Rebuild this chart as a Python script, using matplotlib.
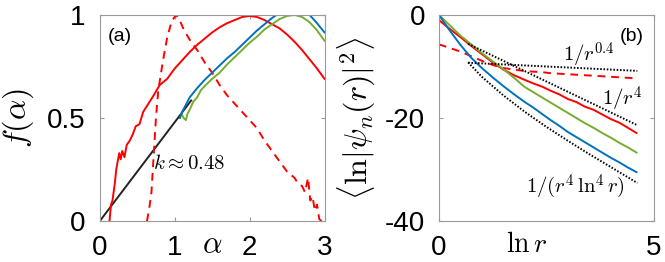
import numpy as np
import matplotlib
matplotlib.use("Agg")
import matplotlib.pyplot as plt

plt.rcParams['font.family'] = ['Liberation Sans', 'DejaVu Sans']
plt.rcParams['mathtext.fontset'] = 'cm'
plt.rcParams['axes.unicode_minus'] = False

RED = '#ff0000'
BLUE = '#0072bd'
GREEN = '#77ac30'
GRAY = '#9a9a9a'

# ---- panel (a): f(alpha) ----
a_red_x = [0.13, 0.15, 0.17, 0.20, 0.22, 0.24, 0.26, 0.28, 0.30, 0.33, 0.36, 0.40, 0.44, 0.48,
           0.53, 0.58, 0.65, 0.72, 0.80, 0.90, 1.0, 1.1, 1.2, 1.3, 1.4, 1.5, 1.6, 1.7, 1.8,
           1.9, 2.0, 2.1, 2.2, 2.3, 2.4, 2.5, 2.6, 2.7, 2.8, 2.9, 3.0]
a_red_y = [0.0, 0.08, 0.10, 0.18, 0.25, 0.29, 0.33, 0.30, 0.34, 0.31, 0.37, 0.39, 0.42, 0.46,
           0.47, 0.53, 0.57, 0.61, 0.66, 0.69, 0.74, 0.78, 0.82, 0.855, 0.885, 0.915, 0.94,
           0.96, 0.975, 0.99, 0.995, 0.99, 0.975, 0.955, 0.935, 0.905, 0.87, 0.83, 0.785,
           0.74, 0.69]

a_dash_x = [0.63, 0.66, 0.69, 0.72, 0.75, 0.78, 0.84, 0.90, 0.96, 1.02, 1.06, 1.12, 1.2,
            1.3, 1.4, 1.5, 1.6, 1.7, 1.8, 1.9, 2.0, 2.1, 2.2, 2.3, 2.4, 2.5, 2.6, 2.65,
            2.7, 2.74, 2.78, 2.81, 2.84, 2.87, 2.9, 2.93, 2.96]
a_dash_y = [0.0, 0.06, 0.14, 0.32, 0.50, 0.63, 0.77, 0.89, 0.97, 1.0, 0.98, 0.93, 0.88,
            0.83, 0.77, 0.72, 0.66, 0.61, 0.57, 0.53, 0.49, 0.45, 0.39, 0.34, 0.29, 0.24,
            0.21, 0.18, 0.17, 0.14, 0.21, 0.10, 0.12, 0.05, 0.08, 0.01, 0.0]

a_blue_x = [1.07, 1.1, 1.2, 1.3, 1.4, 1.5, 1.6, 1.7, 1.8, 1.9, 2.0, 2.1, 2.2, 2.3, 2.4,
            2.5, 2.6, 2.7, 2.8, 2.9, 3.0]
a_blue_y = [0.50, 0.53, 0.60, 0.645, 0.685, 0.72, 0.755, 0.79, 0.82, 0.855, 0.89, 0.925,
            0.955, 0.985, 1.01, 1.025, 1.03, 1.02, 1.0, 0.96, 0.915]

a_green_x = [1.09, 1.12, 1.15, 1.17, 1.2, 1.25, 1.3, 1.35, 1.4, 1.5, 1.6, 1.7, 1.8, 1.9,
             2.0, 2.1, 2.2, 2.3, 2.4, 2.5, 2.6, 2.7, 2.8, 2.9, 3.0]
a_green_y = [0.52, 0.50, 0.49, 0.52, 0.54, 0.58, 0.60, 0.635, 0.655, 0.69, 0.72, 0.76,
             0.795, 0.83, 0.865, 0.895, 0.93, 0.955, 0.98, 0.995, 1.0, 0.99, 0.965, 0.925,
             0.875]

fit_x = [0.0, 1.22]
fit_y = [0.0, 0.585]

# ---- panel (b): <ln|psi_n(r)|^2> vs ln r ----
b_x = [0, 0.25, 0.5, 0.75, 1.0, 1.25, 1.5, 1.75, 2.0, 2.2, 2.4, 2.6, 2.8, 3.0, 3.2, 3.4,
       3.6, 3.8, 4.0, 4.2, 4.4, 4.6]
b_blue = [0, -3.0, -5.8, -8.3, -10.3, -12.1, -13.8, -15.4, -16.9, -18.0, -19.2, -20.4,
          -21.5, -22.7, -23.7, -24.7, -25.7, -26.7, -27.7, -28.6, -29.6, -30.5]
b_green = [0, -2.0, -4.0, -5.7, -7.4, -9.0, -10.5, -12.2, -14.0, -15.0, -16.0, -17.0,
           -18.0, -19.0, -20.0, -21.0, -21.9, -22.9, -23.8, -24.8, -25.7, -26.7]
b_red = [-1.0, -2.7, -4.3, -6.0, -7.6, -9.2, -10.6, -11.7, -12.6, -13.3, -13.9, -14.7,
         -15.4, -16.3, -16.9, -17.8, -18.4, -19.3, -20.2, -20.9, -21.9, -22.9]
b_red_dash = [-5.7, -6.4, -7.1, -8.0, -8.9, -9.7, -10.3, -10.6, -10.9, -11.0, -11.1, -11.3,
              -11.4, -11.5, -11.6, -11.7, -11.8, -11.9, -12.0, -12.1, -12.2, -12.3]

g_x = [0.68, 1.0, 1.5, 2.0, 2.5, 3.0, 3.5, 4.0, 4.62]
g_r04 = [-9.27, -9.40, -9.60, -9.80, -10.00, -10.20, -10.40, -10.60, -10.85]
g_r4 = [-5.6, -6.9, -8.9, -10.9, -12.9, -14.9, -16.9, -18.9, -21.4]
g_r4ln4 = [-9.2, -12.0, -15.6, -18.8, -21.7, -24.4, -27.0, -29.5, -32.6]

fig = plt.figure(figsize=(6.65, 2.62), dpi=100)
ax1 = fig.add_axes([0.150, 0.156, 0.338, 0.787])
ax2 = fig.add_axes([0.660, 0.156, 0.323, 0.787])

lw = 1.4
ax1.plot(fit_x, fit_y, color='#222222', lw=lw)
ax1.plot(a_red_x, a_red_y, color=RED, lw=lw)
ax1.plot(a_dash_x, a_dash_y, color=RED, lw=lw, ls=(0, (4, 3)))
ax1.plot(a_green_x, a_green_y, color=GREEN, lw=lw)
ax1.plot(a_blue_x, a_blue_y, color=BLUE, lw=lw)
ax1.set_xlim(0, 3)
ax1.set_ylim(0, 1)
ax1.set_xticks([0, 1, 2, 3])
ax1.set_yticks([0, 0.5, 1])
ax1.set_yticklabels(['0', '0.5', '1'])
ax1.set_ylabel(r'$f(\alpha)$', fontsize=23, va='center')
ax1.yaxis.set_label_coords(-0.364, 0.5)
ax1.set_xlabel(r'$\alpha$', fontsize=22, va='center')
ax1.xaxis.set_label_coords(0.5, -0.115)
ax1.text(0.107, 0.896, '(a)', fontsize=14, va='center', ha='left')
ax1.text(0.71, 0.28, r'$k\approx0.48$', fontsize=15, va='center', ha='left')

ax2.plot(b_x, b_red_dash, color=RED, lw=lw, ls=(0, (4, 3)))
ax2.plot(b_x, b_red, color=RED, lw=lw)
ax2.plot(b_x, b_green, color=GREEN, lw=lw)
ax2.plot(b_x, b_blue, color=BLUE, lw=lw)
for g in (g_r04, g_r4, g_r4ln4):
    ax2.plot(g_x, g, color='k', lw=1.4, ls=(0, (0.8, 0.9)))
ax2.set_xlim(0, 5)
ax2.set_ylim(-40, 0)
ax2.set_xticks([0, 5])
ax2.set_yticks([-40, -20, 0])
ax2.set_ylabel(r'$\langle\ln|\psi_n(r)|^2\rangle$', fontsize=23, va='center')
ax2.yaxis.set_label_coords(-0.381, 0.5)
ax2.set_xlabel(r'$\ln r$', fontsize=20, va='center')
ax2.xaxis.set_label_coords(0.41, -0.115)
ax2.text(4.21, -4.15, '(b)', fontsize=14, va='center', ha='left')
ax2.text(2.88, -7.9, r'$1/r^{0.4}$', fontsize=15, va='center', ha='left')
ax2.text(3.79, -16.4, r'$1/r^{4}$', fontsize=15, va='center', ha='left')
ax2.text(2.02, -33.4, r'$1/(r^{4}\,\ln^{4}r)$', fontsize=15, va='center', ha='left')

for ax in (ax1, ax2):
    for s in ax.spines.values():
        s.set_color(GRAY)
        s.set_linewidth(0.8)
    ax.tick_params(direction='in', length=3, width=0.8, color=GRAY, labelsize=20,
                   pad=10, top=True, right=True)

fig.savefig('out.png', dpi=100)
